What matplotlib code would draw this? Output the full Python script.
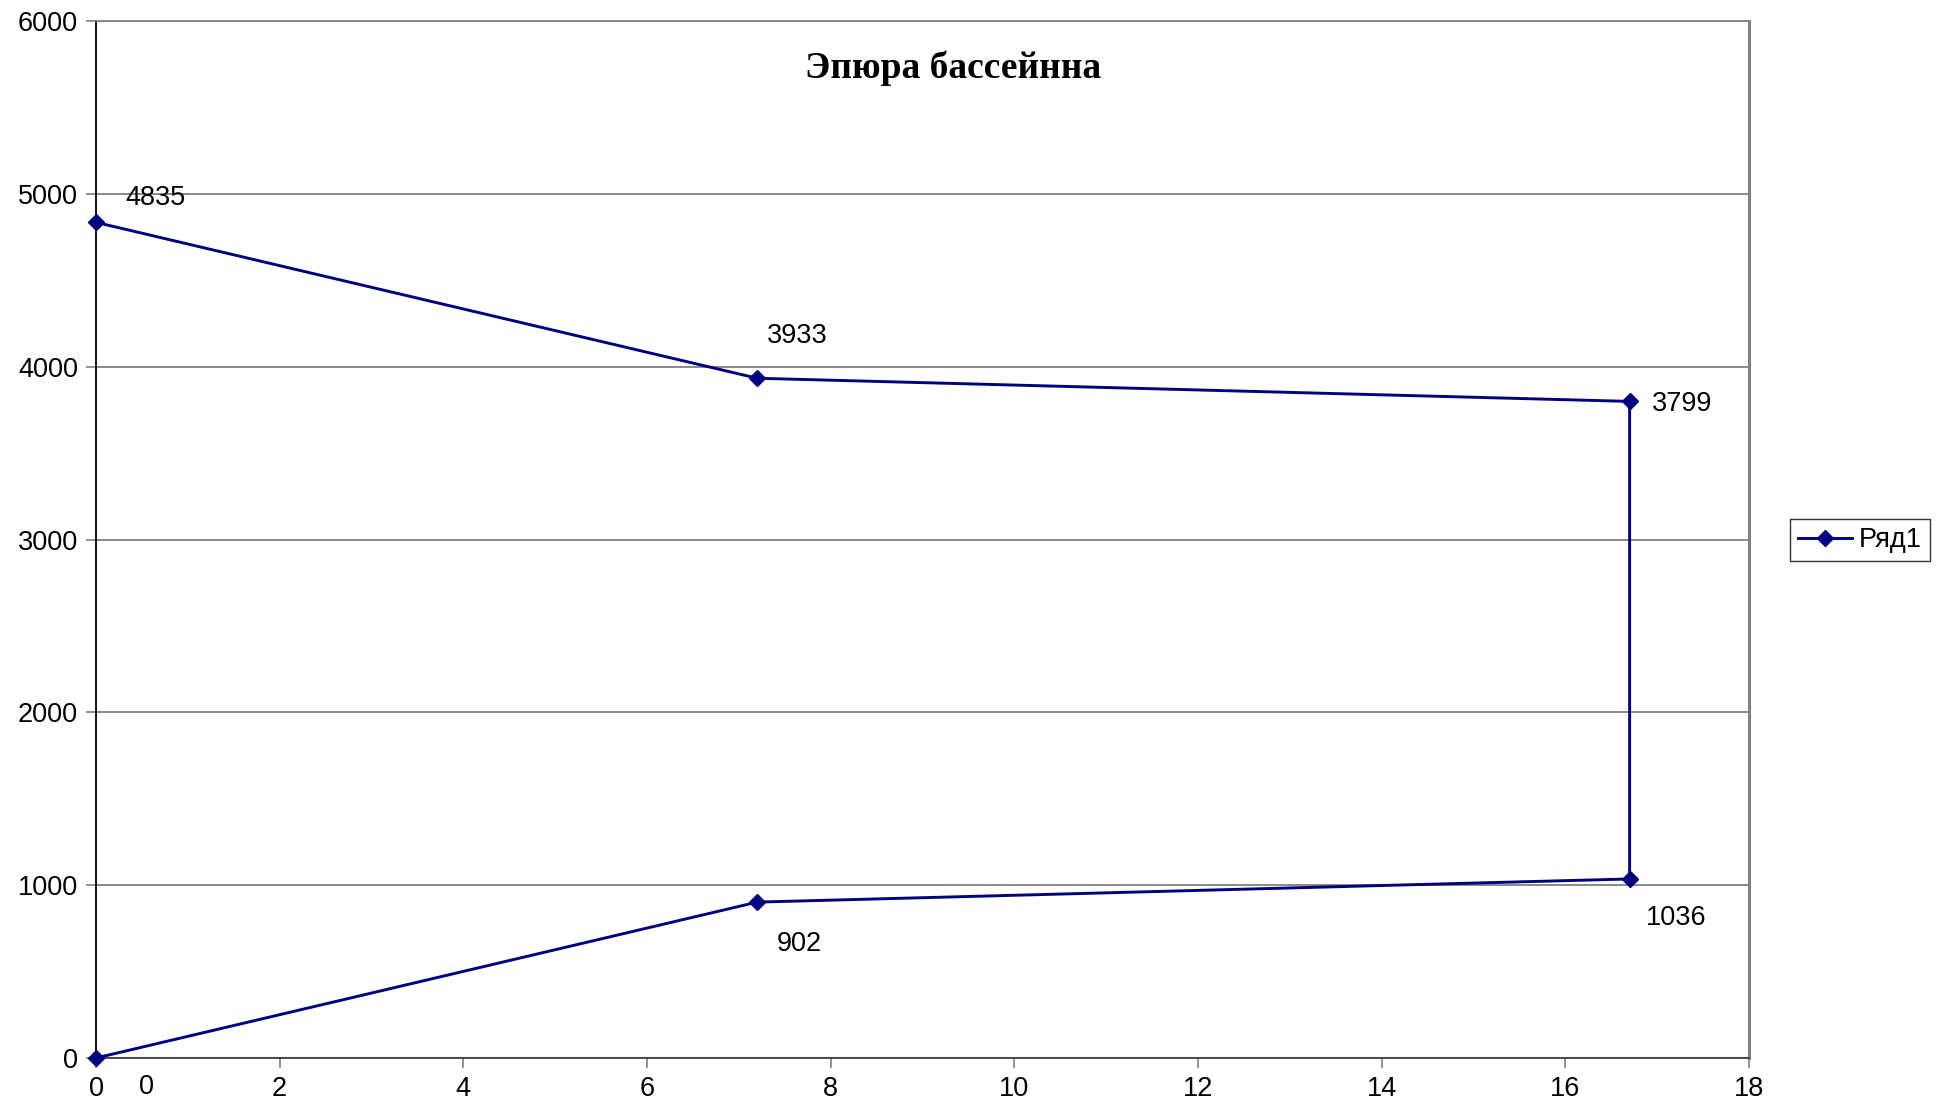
import matplotlib.pyplot as plt

plt.rcParams["font.family"] = ["Liberation Sans", "DejaVu Sans"]

# distance along the pool (x) and pressure ordinates (y), traced as one closed outline
dist = [0, 7.2, 16.7, 16.7, 7.2, 0]
values = [4835, 3933, 3799, 1036, 902, 0]
# label offsets in pixels relative to each point
label_offsets = [(60, 24), (40, 42), (52, -3), (47, -39), (42, -42), (51, -29)]

fig = plt.figure(figsize=(19.48, 11.07), dpi=100)
ax = fig.add_axes([96 / 1948, 1 - 1058 / 1107, (1749 - 96) / 1948, (1058 - 21) / 1107])

ax.plot(dist, values, color="#000080", linewidth=2.1, marker="D", markersize=8.5,
        markerfacecolor="#000080", markeredgecolor="#000080", label="Ряд1",
        clip_on=False, zorder=3)

for x, y, (dx, dy) in zip(dist, values, label_offsets):
    ax.annotate(str(y), (x, y), xytext=(dx, dy), textcoords="offset pixels",
                ha="center", va="center", fontsize=19.5, color="black")

ax.set_xlim(0, 18)
ax.set_ylim(0, 6000)
ax.set_xticks(range(0, 19, 2))
ax.set_yticks(range(0, 6001, 1000))
ax.tick_params(labelsize=19.5, length=7, width=1.2, colors="black", pad=6)
ax.tick_params(axis="y", color="#808080")
ax.tick_params(axis="x", color="#808080")

ax.grid(axis="y", color="#808080", linewidth=1.3)
ax.set_axisbelow(True)
ax.spines["left"].set_color("black")
ax.spines["bottom"].set_color("#404040")
ax.spines["right"].set_color("#808080")
ax.spines["top"].set_color("#808080")
for s in ax.spines.values():
    s.set_linewidth(1.3)
ax.spines["right"].set_linewidth(2.2)

fig.text(953 / 1948, 1 - 68 / 1107, "Эпюра бассейнна", ha="center", va="center",
         fontsize=27, fontweight="bold", family=["Liberation Serif", "DejaVu Serif"])

leg = fig.legend(loc="center", bbox_to_anchor=(1860 / 1948, 1 - 540 / 1107), fontsize=19.5,
                 frameon=True, fancybox=False, edgecolor="black", handlelength=2.0,
                 handletextpad=0.25, borderpad=0.3, borderaxespad=0.0)
leg.get_frame().set_linewidth(1.0)

fig.savefig("out.png", dpi=100)
